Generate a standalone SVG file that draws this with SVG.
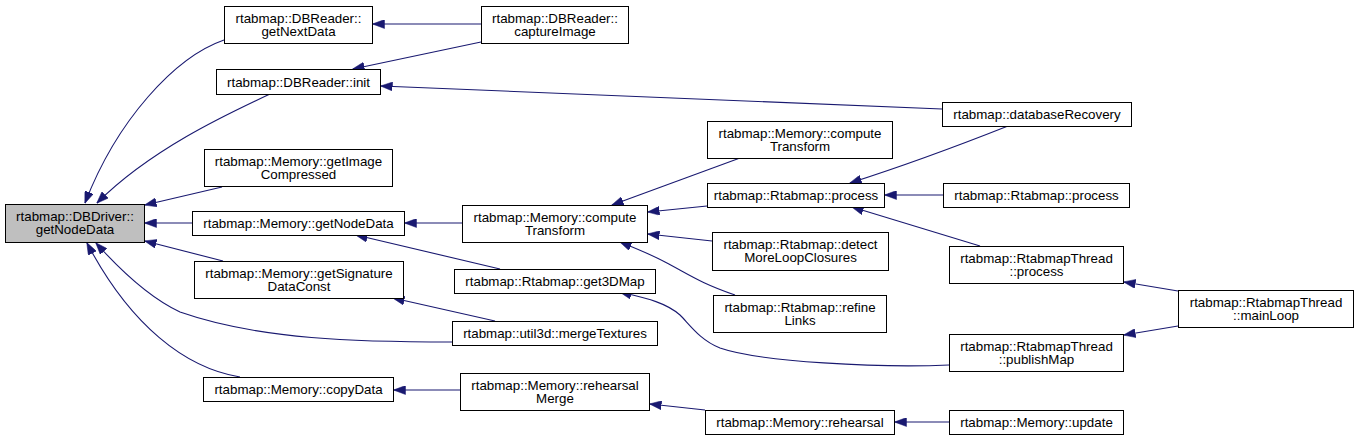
<svg xmlns="http://www.w3.org/2000/svg" width="1358" height="440" viewBox="0 0 1358 440">
<style>
.n rect{fill:#ffffff;stroke:#000000;stroke-width:1}
.n.h rect{fill:#bfbfbf}
.n text{font-family:"Liberation Sans",Arial,Helvetica,sans-serif;font-size:13.33px;text-anchor:middle;fill:#000000}
#edges path{fill:none;stroke:#191970;stroke-width:1.1;marker-end:url(#ah)}
</style>
<defs>
<marker id="ah" viewBox="0 0 12 9" refX="11.5" refY="4.5" markerWidth="12" markerHeight="9" markerUnits="userSpaceOnUse" orient="auto">
<path d="M0,0 L12,4.5 L0,9 z" fill="#191970" stroke="#191970" stroke-width="0.5"/>
</marker>
</defs>
<rect width="1358" height="440" fill="#ffffff"/>
<g id="edges">
<path d="M224,40 C175,57 117,120 85,203"/>
<path d="M270,94 C225,115 150,150 97,203"/>
<path d="M222,187 L145,205"/>
<path d="M192,223 L145,223"/>
<path d="M223,261 L145,241"/>
<path d="M452,342 C360,342 260,340 180,312 C150,298 122,272 96,243"/>
<path d="M240,377 C185,368 130,325 87,243"/>
<path d="M481,24 L373,24"/>
<path d="M481,42 L353,69"/>
<path d="M942,109 L381,86"/>
<path d="M1008,126 C960,145 900,167 850,183"/>
<path d="M943,195 L885,195"/>
<path d="M980,246 L852,207"/>
<path d="M707,206 L648,212"/>
<path d="M740,158 L612,205"/>
<path d="M712,241 L648,234"/>
<path d="M735,295 C700,283 690,275 665,262 C650,254 640,250 620,242"/>
<path d="M500,269 L356,235"/>
<path d="M495,321 L393,298"/>
<path d="M462,223 L405,223"/>
<path d="M949,365 C880,368 760,362 720,348 C700,340 690,325 680,315 C665,302 645,298 620,292"/>
<path d="M1178,291 L1124,282"/>
<path d="M1178,326 L1124,335"/>
<path d="M460,390 L394,390"/>
<path d="M705,410 L650,404"/>
<path d="M949,422 L895,422"/>
</g>
<g id="n_dbdriver_getNodeData" class="n h"><rect x="5.5" y="204.5" width="139" height="38"/><text x="75" y="221">rtabmap::DBDriver::</text><text x="75" y="234">getNodeData</text></g>
<g id="n_dbreader_getNextData" class="n"><rect x="224.5" y="6.5" width="148" height="37"/><text x="298.5" y="23">rtabmap::DBReader::</text><text x="298.5" y="36">getNextData</text></g>
<g id="n_dbreader_init" class="n"><rect x="216.5" y="69.5" width="164" height="25"/><text x="298.5" y="86.5">rtabmap::DBReader::init</text></g>
<g id="n_memory_getImageCompressed" class="n"><rect x="204.5" y="149.5" width="188" height="37"/><text x="298.5" y="166">rtabmap::Memory::getImage</text><text x="298.5" y="179">Compressed</text></g>
<g id="n_memory_getNodeData" class="n"><rect x="192.5" y="211.5" width="212" height="24"/><text x="298.5" y="228">rtabmap::Memory::getNodeData</text></g>
<g id="n_memory_getSignatureDataConst" class="n"><rect x="194.5" y="261.5" width="209" height="37"/><text x="299" y="278">rtabmap::Memory::getSignature</text><text x="299" y="291">DataConst</text></g>
<g id="n_memory_copyData" class="n"><rect x="203.5" y="377.5" width="190" height="24"/><text x="298.5" y="394">rtabmap::Memory::copyData</text></g>
<g id="n_dbreader_captureImage" class="n"><rect x="481.5" y="6.5" width="147" height="37"/><text x="555" y="23">rtabmap::DBReader::</text><text x="555" y="36">captureImage</text></g>
<g id="n_memory_computeTransform_a" class="n"><rect x="462.5" y="205.5" width="185" height="37"/><text x="555" y="222">rtabmap::Memory::compute</text><text x="555" y="235">Transform</text></g>
<g id="n_rtabmap_get3DMap" class="n"><rect x="454.5" y="269.5" width="201" height="24"/><text x="555" y="286">rtabmap::Rtabmap::get3DMap</text></g>
<g id="n_util3d_mergeTextures" class="n"><rect x="452.5" y="321.5" width="205" height="24"/><text x="555" y="338">rtabmap::util3d::mergeTextures</text></g>
<g id="n_memory_rehearsalMerge" class="n"><rect x="460.5" y="373.5" width="189" height="37"/><text x="555" y="390">rtabmap::Memory::rehearsal</text><text x="555" y="403">Merge</text></g>
<g id="n_memory_computeTransform_b" class="n"><rect x="707.5" y="121.5" width="185" height="37"/><text x="800" y="138">rtabmap::Memory::compute</text><text x="800" y="151">Transform</text></g>
<g id="n_rtabmap_process_a" class="n"><rect x="707.5" y="183.5" width="177" height="24"/><text x="796" y="200">rtabmap::Rtabmap::process</text></g>
<g id="n_rtabmap_detectMoreLoopClosures" class="n"><rect x="712.5" y="232.5" width="176" height="38"/><text x="800.5" y="249">rtabmap::Rtabmap::detect</text><text x="800.5" y="262">MoreLoopClosures</text></g>
<g id="n_rtabmap_refineLinks" class="n"><rect x="713.5" y="295.5" width="173" height="37"/><text x="800" y="312">rtabmap::Rtabmap::refine</text><text x="800" y="325">Links</text></g>
<g id="n_memory_rehearsal" class="n"><rect x="705.5" y="410.5" width="189" height="24"/><text x="800" y="427">rtabmap::Memory::rehearsal</text></g>
<g id="n_databaseRecovery" class="n"><rect x="942.5" y="102.5" width="189" height="24"/><text x="1037" y="119">rtabmap::databaseRecovery</text></g>
<g id="n_rtabmap_process_b" class="n"><rect x="943.5" y="183.5" width="186" height="24"/><text x="1036.5" y="200">rtabmap::Rtabmap::process</text></g>
<g id="n_rtabmapThread_process" class="n"><rect x="949.5" y="246.5" width="174" height="37"/><text x="1036.5" y="263">rtabmap::RtabmapThread</text><text x="1036.5" y="276">::process</text></g>
<g id="n_rtabmapThread_publishMap" class="n"><rect x="949.5" y="334.5" width="174" height="37"/><text x="1036.5" y="351">rtabmap::RtabmapThread</text><text x="1036.5" y="364">::publishMap</text></g>
<g id="n_memory_update" class="n"><rect x="949.5" y="410.5" width="174" height="24"/><text x="1036.5" y="427">rtabmap::Memory::update</text></g>
<g id="n_rtabmapThread_mainLoop" class="n"><rect x="1178.5" y="290.5" width="175" height="37"/><text x="1266" y="307">rtabmap::RtabmapThread</text><text x="1266" y="320">::mainLoop</text></g>
</svg>
